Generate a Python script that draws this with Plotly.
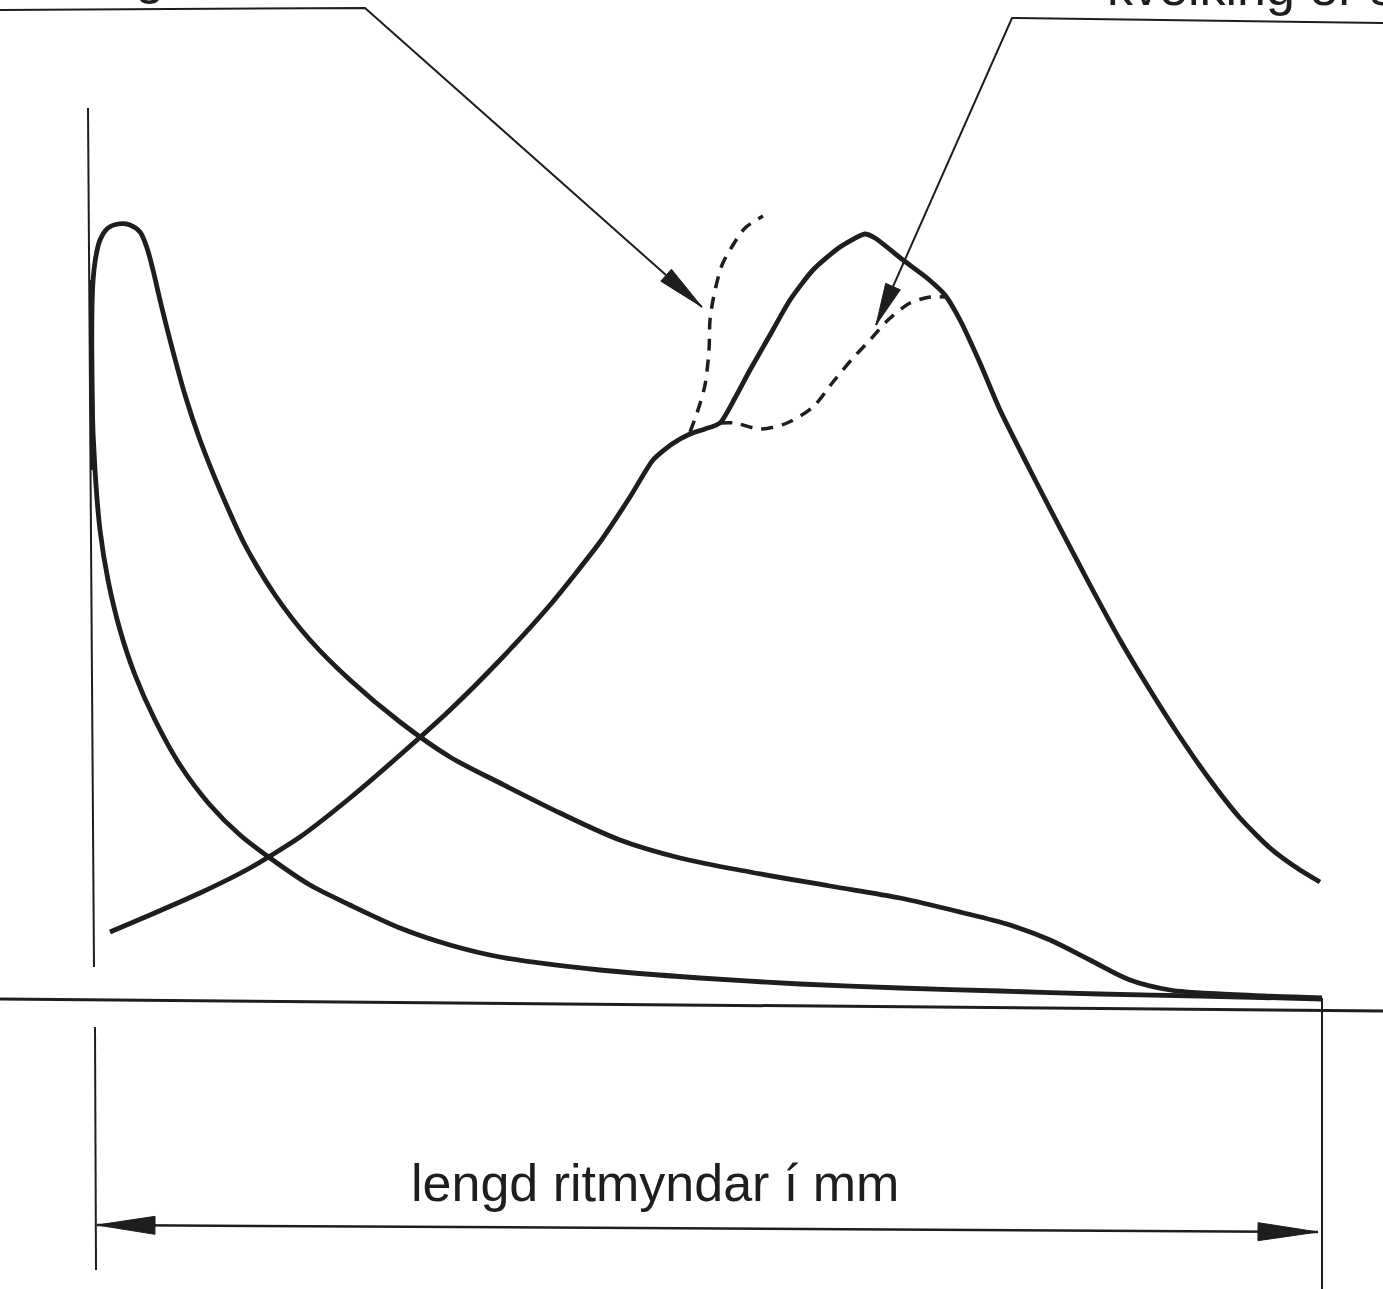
import math
import plotly.graph_objects as go

# ---- data (x: length along chart, y: height above baseline; same units on both axes) ----
# tall early peak curve
curveA_x = [0, -1, -1, 2, 7, 15, 25, 37, 47, 54, 60, 67, 77, 92, 107, 127, 152, 182, 217, 257,
            307, 357, 407, 467, 527, 587, 657, 737, 807, 867, 917, 957, 997, 1037, 1077, 1127, 1229]
curveA_y = [530, 620, 700, 738, 760, 772, 776, 775, 768, 752, 730, 700, 660, 605, 560, 510, 455, 405, 360, 320,
            278, 243, 217, 187, 160, 142, 128, 114, 102, 88, 75, 60, 40, 20, 10, 6, 2]

# fast-decaying curve
curveB_x = [-1, -1, 2, 7, 15, 27, 42, 62, 87, 117, 147, 177, 217, 257, 307, 357, 407, 507, 607, 707,
            807, 907, 1007, 1107, 1229]
curveB_y = [720, 600, 530, 470, 420, 370, 325, 280, 235, 195, 165, 142, 115, 95, 72, 55, 43, 30, 22, 16,
            12, 9, 6, 4, 1]

# main pressure curve (rise, kink, peak, fall)
curveC_x = [17, 57, 107, 157, 207, 257, 307, 357, 407, 457, 507, 537, 560, 579, 597, 612, 627,
            642, 657, 677, 697, 720, 747, 772, 782, 810, 834, 852, 867, 887, 907, 937, 967, 997,
            1027, 1057, 1087, 1117, 1147, 1177, 1207, 1227]
curveC_y = [68, 85, 107, 132, 163, 202, 245, 290, 340, 395, 458, 503, 540, 556, 566, 571, 577,
            602, 630, 665, 700, 730, 753, 766, 762, 740, 722, 705, 680, 637, 590, 530, 472, 415,
            360, 310, 263, 220, 182, 152, 130, 118]

# dashed variant: early ignition
early_x = [597, 604, 612, 616, 617, 621, 629, 640, 652, 670]
early_y = [568, 587, 615, 650, 680, 705, 735, 755, 772, 784]

# dashed variant: late ignition
late_x = [627, 642, 667, 694, 720, 740, 760, 777, 795, 817, 837, 852]
late_y = [577, 577, 571, 577, 593, 618, 642, 660, 680, 697, 703, 703]

# frame lines
axis_x = [-5, 1]
axis_y = [892, 33]
base_x = [-93, 1290]
base_y = [1, -11]
extL_x = [2, 3]
extL_y = [-27, -270]
extR_x = [1229, 1229]
extR_y = [2, -289]
dim_x = [4, 1225]
dim_y = [-225, -232]

# callout leaders (last point = arrow tip)
leadL_x = [-93, 272, 609]
leadL_y = [990, 992, 693]
leadR_x = [1290, 919, 783]
leadR_y = [977, 982, 675]

# labels
dim_label = "lengd ritmyndar í mm"
dim_label_pos = (562, -183)
labelL = "Of snemm kveiking"
labelL_pos = (73, 994)
labelR = "kveiking er sein"
labelR_pos = (1012, 982)

INK = "#1e1e1e"
W, H = 1383, 1289

fig = go.Figure()


def line(xs, ys, width, dash="solid", shape="linear", smoothing=1.0):
    fig.add_trace(go.Scatter(x=xs, y=ys, mode="lines",
                             line=dict(color=INK, width=width, dash=dash, shape=shape,
                                       smoothing=smoothing),
                             hoverinfo="skip", showlegend=False))


def head(tip, tail, length, half):
    dx, dy = tip[0] - tail[0], tip[1] - tail[1]
    n = math.hypot(dx, dy)
    ux, uy = dx / n, dy / n
    bx, by = tip[0] - ux * length, tip[1] - uy * length
    px, py = -uy * half, ux * half
    xs = [tip[0], bx + px, bx - px, tip[0]]
    ys = [tip[1], by + py, by - py, tip[1]]
    fig.add_trace(go.Scatter(x=xs, y=ys, mode="lines", fill="toself", fillcolor=INK,
                             line=dict(color=INK, width=1), hoverinfo="skip", showlegend=False))


# frame
line(axis_x, axis_y, 2)
line(base_x, base_y, 3)
line(extL_x, extL_y, 2)
line(extR_x, extR_y, 2)
line(dim_x, dim_y, 2.5)
head((dim_x[0], dim_y[0]), (dim_x[1], dim_y[1]), 58, 9)
head((dim_x[1], dim_y[1]), (dim_x[0], dim_y[0]), 60, 9)

# curves
line(curveB_x, curveB_y, 4.8, shape="spline", smoothing=0.8)
line(curveA_x, curveA_y, 4.8, shape="spline", smoothing=0.9)
line(curveC_x, curveC_y, 4.8, shape="spline", smoothing=0.6)
line(early_x, early_y, 3.5, dash="12px,9px", shape="spline", smoothing=0.8)
line(late_x, late_y, 3.5, dash="12px,9px", shape="spline", smoothing=0.8)

# leaders
line(leadL_x, leadL_y, 2)
head((leadL_x[-1], leadL_y[-1]), (leadL_x[-2], leadL_y[-2]), 48, 8)
line(leadR_x, leadR_y, 2)
head((leadR_x[-1], leadR_y[-1]), (leadR_x[-2], leadR_y[-2]), 42, 8)

font = dict(family="Liberation Sans, Arial, sans-serif", size=52, color=INK)
fig.add_annotation(x=dim_label_pos[0], y=dim_label_pos[1], text=dim_label, showarrow=False,
                   xanchor="center", yanchor="middle", font=font)
fig.add_annotation(x=labelL_pos[0], y=labelL_pos[1], text=labelL, showarrow=False,
                   xanchor="right", yanchor="bottom", font=font)
fig.add_annotation(x=labelR_pos[0], y=labelR_pos[1], text=labelR, showarrow=False,
                   xanchor="left", yanchor="bottom", font=font)

fig.update_layout(
    width=W, height=H, autosize=False,
    margin=dict(l=0, r=0, t=0, b=0, pad=0),
    paper_bgcolor="white", plot_bgcolor="white",
    xaxis=dict(range=[-93, 1290], visible=False, fixedrange=True),
    yaxis=dict(range=[-289, 1000], visible=False, fixedrange=True),
    showlegend=False,
)

fig.write_html("out.html", config={"displayModeBar": False},
               post_script="document.body.style.margin='0';")
